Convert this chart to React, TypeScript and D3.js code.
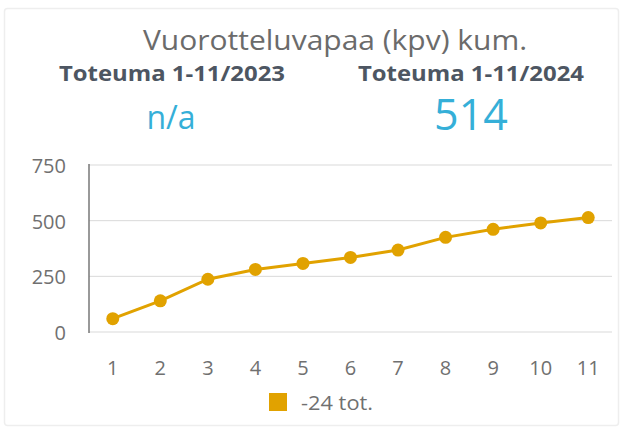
import React from "react";
import * as d3 from "d3";

const months = ["1", "2", "3", "4", "5", "6", "7", "8", "9", "10", "11"];
const values = [60, 140, 237, 281, 308, 335, 368, 425, 461, 490, 514];
const yTicks = [0, 250, 500, 750];
const title = "Vuorotteluvapaa (kpv) kum.";
const kpiLabels = ["Toteuma 1-11/2023", "Toteuma 1-11/2024"];
const kpiValues = ["n/a", "514"];
const seriesName = "-24 tot.";

const W = 624;
const H = 430;
const FONT = "'Open Sans', 'Noto Sans', sans-serif";
const LINE = "#E1A200";

export default function App() {
  const x = d3.scaleBand<string>().domain(months).range([89, 612]);
  const y = d3.scaleLinear().domain([0, 750]).range([332, 165]);
  const cx = (i: number) => (x(months[i]) as number) + x.bandwidth() / 2;
  const line = d3
    .line<number>()
    .x((_, i) => cx(i))
    .y((d) => y(d));

  return (
    <svg
      width={W}
      height={H}
      style={{ position: "absolute", left: 0, top: 0, background: "#fff" }}
    >
      <rect x={4.5} y={8.5} width={614} height={417} rx={3} fill="#fff" stroke="#eeeeee" strokeWidth={1.5} />
      <text
        x={335}
        y={50}
        textAnchor="middle"
        fontFamily={FONT}
        fontSize={28}
        fill="#6b6b6b"
        textLength={384}
        lengthAdjust="spacingAndGlyphs"
      >
        {title}
      </text>
      {kpiLabels.map((t, i) => (
        <text
          key={t}
          x={i === 0 ? 172 : 471}
          y={81}
          textAnchor="middle"
          fontFamily={FONT}
          fontSize={22}
          fontWeight="bold"
          fill="#4d5662"
          textLength={226}
          lengthAdjust="spacingAndGlyphs"
        >
          {t}
        </text>
      ))}
      {kpiValues.map((t, i) => (
        <text
          key={t}
          x={i === 0 ? 171 : 471}
          y={i === 0 ? 129 : 130}
          textAnchor="middle"
          fontFamily={FONT}
          fontSize={i === 0 ? 32 : 43}
          fill="#35AFD8"
        >
          {t}
        </text>
      ))}
      {yTicks.map((t) => (
        <g key={t}>
          <line x1={89} x2={612} y1={y(t)} y2={y(t)} stroke="#d9d9d9" strokeWidth={1} />
          <text
            x={66}
            y={y(t) + 8}
            textAnchor="end"
            fontFamily={FONT}
            fontSize={20}
            fill="#707070"
          >
            {t}
          </text>
        </g>
      ))}
      <line x1={89} x2={89} y1={164} y2={333} stroke="#777" strokeWidth={1.5} />
      {months.map((m, i) => (
        <text
          key={m}
          x={cx(i)}
          y={375}
          textAnchor="middle"
          fontFamily={FONT}
          fontSize={20}
          fill="#707070"
        >
          {m}
        </text>
      ))}
      <path d={line(values) || ""} fill="none" stroke={LINE} strokeWidth={3} />
      {values.map((v, i) => (
        <circle key={i} cx={cx(i)} cy={y(v)} r={6.5} fill={LINE} />
      ))}
      <rect x={269} y={393} width={18} height={18} fill={LINE} />
      <text x={301} y={410} fontFamily={FONT} fontSize={20} fill="#707070" textLength={72} lengthAdjust="spacingAndGlyphs">
        {seriesName}
      </text>
    </svg>
  );
}
